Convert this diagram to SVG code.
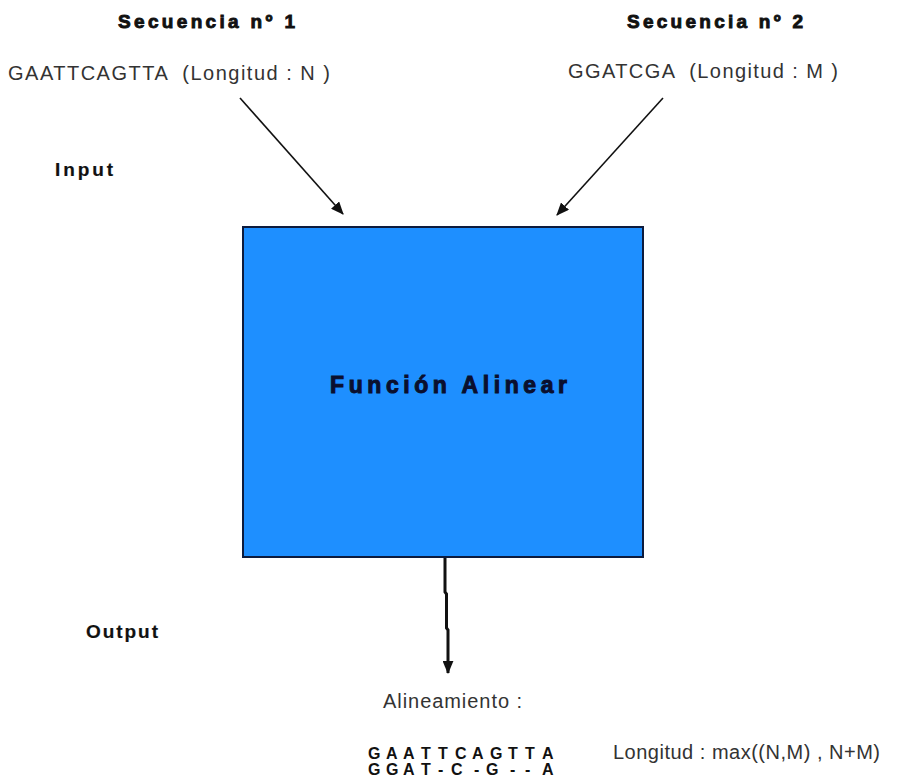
<svg xmlns="http://www.w3.org/2000/svg" width="916" height="782" viewBox="0 0 916 782">
  <style>
    text { white-space: pre; }
    .title { font-family: "Liberation Sans", Arial, sans-serif; font-size: 19px; font-weight: bold; fill: #111; stroke: #111; stroke-width: 0.9px; }
    .seq { font-family: "Liberation Sans", Arial, sans-serif; font-size: 20px; fill: #333; }
    .label { font-family: "Liberation Sans", Arial, sans-serif; font-size: 19px; font-weight: bold; fill: #111; stroke: #111; stroke-width: 0.2px; }
    .func { font-family: "Liberation Sans", Arial, sans-serif; font-size: 23px; font-weight: bold; fill: #0a0f2e; stroke: #0a0f2e; stroke-width: 1px; }
    .align { font-family: "Liberation Sans", Arial, sans-serif; font-size: 16px; font-weight: bold; fill: #111; }
    .conn { fill: none; stroke: #111; stroke-width: 1.6; }
    .conn-out { fill: none; stroke: #111; stroke-width: 3; }
  </style>
  <defs>
    <marker id="head" viewBox="0 0 12 10" refX="11" refY="5" markerWidth="13" markerHeight="11" markerUnits="userSpaceOnUse" orient="auto">
      <path d="M0,0 L12,5 L0,10 Z" fill="#111"/>
    </marker>
  </defs>

  <rect width="916" height="782" fill="#ffffff"/>

  <!-- input sequences -->
  <g id="seq1">
    <text class="title" x="118" y="28" textLength="177" lengthAdjust="spacing">Secuencia nº 1</text>
    <text class="seq" x="8" y="80" textLength="322" lengthAdjust="spacing" xml:space="preserve">GAATTCAGTTA  (Longitud : N )</text>
  </g>
  <g id="seq2">
    <text class="title" x="627" y="28" textLength="176" lengthAdjust="spacing">Secuencia nº 2</text>
    <text class="seq" x="568" y="78" textLength="270" lengthAdjust="spacing" xml:space="preserve">GGATCGA  (Longitud : M )</text>
  </g>

  <g id="input-label">
    <text class="label" x="55" y="176" textLength="58" lengthAdjust="spacing">Input</text>
  </g>
  <g id="output-label">
    <text class="label" x="86" y="638" textLength="72" lengthAdjust="spacing">Output</text>
  </g>

  <!-- alignment function block -->
  <g id="func">
    <rect x="243" y="227" width="400" height="330" fill="#1e8fff" stroke="#0d1b3d" stroke-width="2"/>
    <text class="func" x="330" y="393" textLength="237" lengthAdjust="spacing">Función Alinear</text>
  </g>

  <!-- result -->
  <g id="result">
    <text class="seq" x="383" y="708" textLength="139" lengthAdjust="spacing">Alineamiento :</text>
    <text class="align" x="368 386 403 421 438 455 472 490 508 525 542" y="759">GAATTCAGTTA</text>
    <text class="align" x="368 386 403 421 438 451 474 486 510 525 542" y="775">GGAT-C-G--A</text>
    <text class="seq" x="613" y="759" textLength="267" lengthAdjust="spacing">Longitud : max((N,M) , N+M)</text>
  </g>

  <!-- connectors -->
  <g id="connectors">
    <line class="conn" x1="240" y1="98" x2="343" y2="214" marker-end="url(#head)"/>
    <line class="conn" x1="663" y1="98" x2="557" y2="215" marker-end="url(#head)"/>
    <polyline class="conn-out" points="445,558 445,592 446.5,594 446.5,628 448,630 448,673" marker-end="url(#head)"/>
  </g>
</svg>
